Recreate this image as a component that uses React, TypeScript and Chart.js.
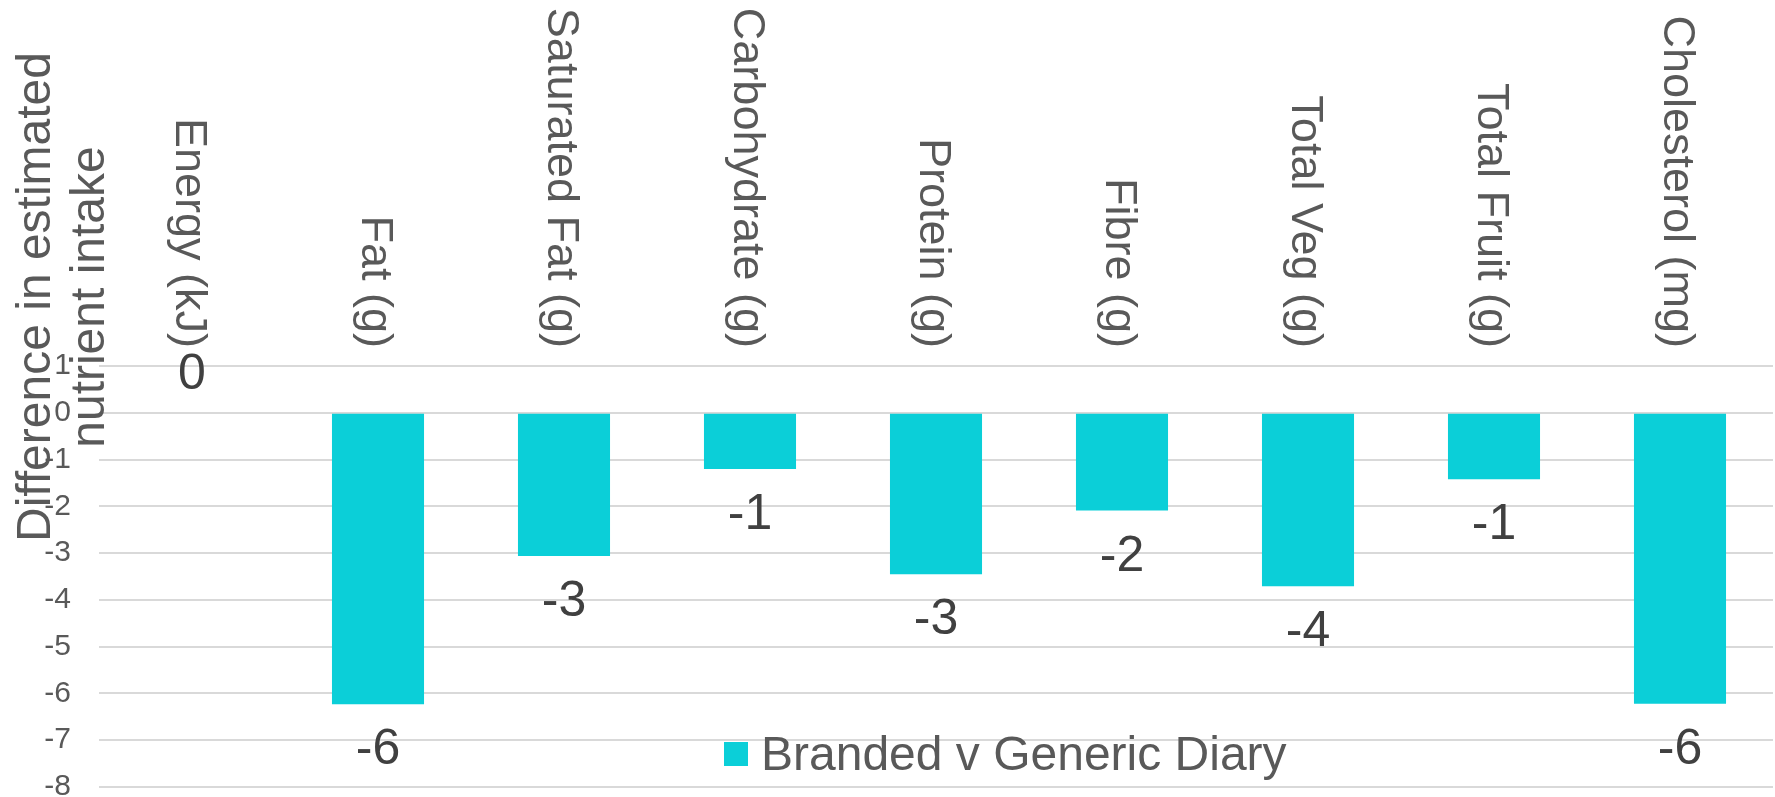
import { useEffect, useRef } from "react";
import { Chart, registerables } from "chart.js";

Chart.register(...registerables);

// Nutrients compared between the two diary types
const categories = [
  "Energy (kJ)",
  "Fat (g)",
  "Saturated Fat (g)",
  "Carbohydrate (g)",
  "Protein (g)",
  "Fibre (g)",
  "Total Veg (g)",
  "Total Fruit (g)",
  "Cholesterol (mg)",
];

// Difference in estimated intake, branded minus generic diary
const brandedVsGeneric = [0, -6.23, -3.06, -1.2, -3.45, -2.09, -3.71, -1.42, -6.22];

const seriesName = "Branded v Generic Diary";
const yTitleLines = ["Difference in estimated", "nutrient intake"];
const yMin = -8;
const yMax = 1;
const yStep = 1;

const FONT = '"Liberation Sans", Arial, Helvetica, sans-serif';
const BAR_COLOR = "#0BCFD8";
const TEXT_GREY = "#595959";
const LABEL_DARK = "#404040";

const textOverlay = {
  id: "textOverlay",
  afterDraw(chart: any) {
    const ctx = chart.ctx as CanvasRenderingContext2D;
    const xScale = chart.scales.x;
    const area = chart.chartArea;
    ctx.save();

    // category names, rotated to read downwards, ending just above the plot
    ctx.font = `45px ${FONT}`;
    ctx.fillStyle = TEXT_GREY;
    ctx.textAlign = "right";
    ctx.textBaseline = "alphabetic";
    chart.data.labels.forEach((label: string, i: number) => {
      const cx = xScale.getPixelForValue(i);
      ctx.save();
      ctx.translate(cx - 16, area.top - 18);
      ctx.rotate(Math.PI / 2);
      ctx.fillText(label, 0, 0);
      ctx.restore();
    });

    // value axis title, two lines reading upwards
    ctx.font = `48px ${FONT}`;
    ctx.textAlign = "center";
    const titleX = [50, 104];
    yTitleLines.forEach((line, i) => {
      ctx.save();
      ctx.translate(titleX[i], 297);
      ctx.rotate(-Math.PI / 2);
      ctx.fillText(line, 0, 0);
      ctx.restore();
    });

    // rounded value labels outside each bar end
    const meta = chart.getDatasetMeta(0);
    const values = chart.data.datasets[0].data as number[];
    ctx.font = `50px ${FONT}`;
    ctx.fillStyle = LABEL_DARK;
    ctx.textAlign = "center";
    meta.data.forEach((bar: any, i: number) => {
      const v = values[i];
      const rounded = Math.round(v);
      const text = String(rounded === 0 ? 0 : rounded);
      const y = v < 0 ? bar.y + 60 : bar.y - 24;
      ctx.fillText(text, bar.x, y);
    });

    // legend entry
    ctx.fillStyle = BAR_COLOR;
    ctx.fillRect(724, 742, 24, 24);
    ctx.font = `48px ${FONT}`;
    ctx.fillStyle = TEXT_GREY;
    ctx.textAlign = "left";
    ctx.fillText(chart.data.datasets[0].label, 761, 770);

    ctx.restore();
  },
};

export default function App() {
  const canvasRef = useRef<HTMLCanvasElement>(null);

  useEffect(() => {
    const canvas = canvasRef.current;
    if (!canvas) return;
    const chart = new Chart(canvas, {
      type: "bar",
      data: {
        labels: categories,
        datasets: [
          {
            label: seriesName,
            data: brandedVsGeneric,
            backgroundColor: BAR_COLOR,
            borderWidth: 0,
            categoryPercentage: 1,
            barPercentage: 0.495,
          },
        ],
      },
      options: {
        animation: false,
        responsive: false,
        layout: { padding: { left: 0, top: 366, right: 2, bottom: 10 } },
        plugins: {
          legend: { display: false },
          tooltip: { enabled: false },
          title: { display: false },
        },
        scales: {
          x: { display: false, grid: { display: false } },
          y: {
            min: yMin,
            max: yMax,
            ticks: {
              stepSize: yStep,
              color: TEXT_GREY,
              font: { family: FONT, size: 30 },
              padding: 28,
            },
            grid: { color: "#D9D9D9", lineWidth: 2, drawTicks: false },
            border: { display: false },
            afterFit(scale: any) {
              scale.width = 99;
              scale.paddingTop = 0;
              scale.paddingBottom = 0;
            },
          },
        },
      },
      plugins: [textOverlay],
    });
    return () => chart.destroy();
  }, []);

  return (
    <div
      style={{
        position: "fixed",
        left: 0,
        top: 0,
        width: 1775,
        height: 797,
        background: "#ffffff",
      }}
    >
      <canvas ref={canvasRef} width={1775} height={797} style={{ display: "block" }} />
    </div>
  );
}
